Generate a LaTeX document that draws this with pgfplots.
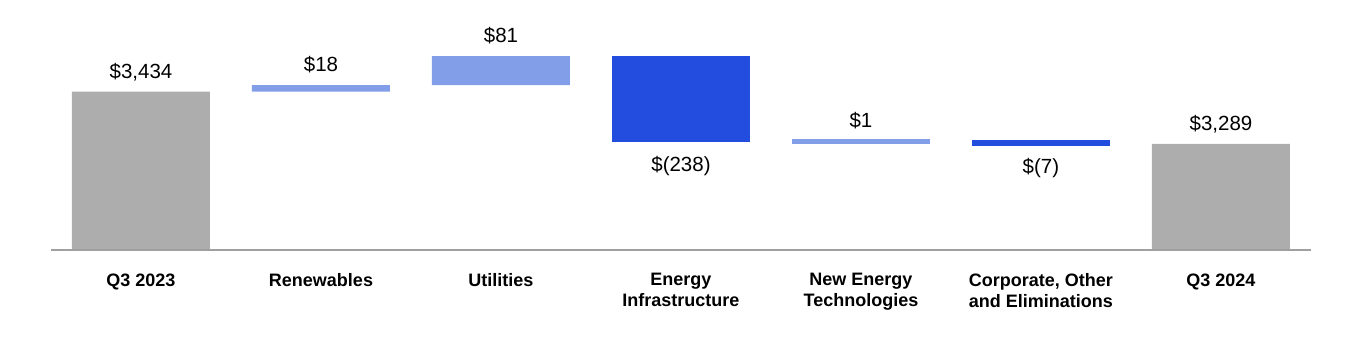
\documentclass[border=0pt]{standalone}
\usepackage{fontspec}
\setmainfont{Liberation Sans}
\usepackage{pgfplots}
\usepackage{pgfplotstable}
\pgfplotsset{compat=1.18}
\definecolor{grayb}{RGB}{173,173,173}
\definecolor{lightb}{RGB}{130,158,232}
\definecolor{darkb}{RGB}{35,77,222}
\definecolor{axgray}{RGB}{160,160,160}
\pgfplotsset{
  geom/.style={
    at={(0,0)}, anchor=south west,
    scale only axis,
    width=1260pt, height=240.5pt,
    xmin=-0.5, xmax=6.5,
    ymin=2993, ymax=3661,
  },
  bars/.style={geom, ybar stacked, bar width=0.7667},
  lab/.style={draw=none, mark=none, nodes near coords, point meta=explicit symbolic,
    every node near coord/.append style={font=\fontsize{20.5}{24}\selectfont, text=black,
      inner sep=0pt, text height=15pt, text depth=5pt}},
}
% bar segments: x, invisible base, gray total, light-blue increase, dark-blue decrease
\pgfplotstableread{
x base gray light dark
0 0    3434 0  0
1 3434 0    18 0
2 3452 0    81 0
3 3295 0    0  238
4 0    0    0  0
5 0    0    0  0
6 0    3289 0  0
}\bars
% value labels above the bars (x, top of bar, text)
\pgfplotstableread{
x y label
0 3434 {\$3,434}
1 3452 {\$18}
2 3533 {\$81}
4 3296 {\$1}
6 3289 {\$3,289}
}\labup
% value labels below the bars (x, bottom of bar, text)
\pgfplotstableread{
x y label
3 3295 {\$(238)}
5 3289 {\$(7)}
}\labdown
\begin{document}
\begin{tikzpicture}
\begin{axis}[
  bars,
  axis x line=bottom, axis y line=none,
  x axis line style={draw=axgray, line width=2pt, -},
  axis on top,
  xtick={0,1,2,3,4,5,6},
  xticklabels={Q3 2023, Renewables, Utilities, Energy\\Infrastructure, New Energy\\Technologies, {Corporate, Other\\and Eliminations}, Q3 2024},
  major tick length=0pt,
  xticklabel style={font=\fontsize{18}{21}\selectfont\bfseries, align=center, anchor=north, yshift=-19.5pt, text=black},
]
\coordinate (o) at (rel axis cs:0,0);
\addplot[draw=none, fill=none] table[x=x, y=base] {\bars};
\addplot[draw=none, fill=grayb] table[x=x, y=gray] {\bars};
\addplot[draw=none, fill=lightb] table[x=x, y=light] {\bars};
\addplot[draw=none, fill=darkb] table[x=x, y=dark] {\bars};
\end{axis}
% New Energy Technologies: +1 (drawn with a minimum visible thickness)
\begin{axis}[bars, hide axis]
\addplot[draw=none, fill=none] coordinates {(4,3295)};
\addplot[fill=lightb, draw=lightb, line width=5.3pt, bar width=0.7373] coordinates {(4,1)};
\end{axis}
% Corporate, Other and Eliminations: -7
\begin{axis}[bars, hide axis]
\addplot[draw=none, fill=none] coordinates {(5,3289)};
\addplot[fill=darkb, draw=darkb, line width=3.2pt, bar width=0.7489] coordinates {(5,7)};
\end{axis}
% value labels
\begin{axis}[geom, hide axis, clip=false]
\addplot[lab, nodes near coords align={above}, every node near coord/.append style={yshift=8.5pt}] table[x=x, y=y, meta=label] {\labup};
\addplot[lab, nodes near coords align={below}, every node near coord/.append style={yshift=-14.5pt}] table[x=x, y=y, meta=label] {\labdown};
\end{axis}
\pgfresetboundingbox
\path ([shift={(-51pt,-99.5pt)}]o) rectangle ++(1360pt,350pt);
\end{tikzpicture}
\end{document}
